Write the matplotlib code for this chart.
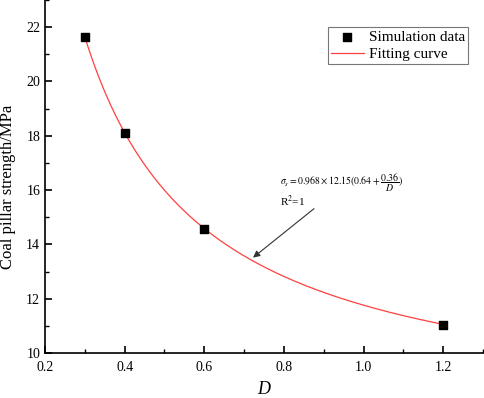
import numpy as np
import matplotlib
matplotlib.use("Agg")
import matplotlib.pyplot as plt
from matplotlib.ticker import MultipleLocator

plt.rcParams['font.family'] = ['Liberation Serif', 'DejaVu Serif']
plt.rcParams['mathtext.fontset'] = 'stix'

# Simulation data
D_sim = [0.3, 0.4, 0.6, 1.2]
strength_sim = [21.65, 18.12, 14.58, 11.05]

# Fitting parameters (from the annotation)
k1 = 0.968
k2 = 12.15
a = 0.64
b = 0.36

D_fit = np.linspace(0.3, 1.2, 300)
strength_fit = k1 * k2 * (a + b / D_fit)

fig = plt.figure(figsize=(4.84, 3.98), dpi=100)
ax = fig.add_axes([0.093, 0.113, 0.905, 0.887])

ax.plot(D_fit, strength_fit, color='#ff4040', lw=0.9, label='Fitting curve', zorder=2)
ax.scatter(D_sim, strength_sim, marker='s', s=40, color='black', label='Simulation data', zorder=3)

ax.set_xlim(0.2, 1.3)
ax.set_ylim(10, 23)
ax.xaxis.set_minor_locator(MultipleLocator(0.1))
ax.yaxis.set_minor_locator(MultipleLocator(1))
ax.set_xticks([0.2, 0.4, 0.6, 0.8, 1.0, 1.2])
ax.set_xticklabels(['0.2', '0.4', '0.6', '0.8', '1.0', '1.2'])
ax.set_yticks([10, 12, 14, 16, 18, 20, 22])

for s in ['top', 'right']:
    ax.spines[s].set_visible(False)
for s in ['left', 'bottom']:
    ax.spines[s].set_linewidth(1.2)
ax.tick_params(which='major', direction='in', length=5, width=1.2, labelsize=10)
ax.tick_params(axis='x', which='major', pad=6)
ax.tick_params(which='minor', direction='in', length=3, width=1.0)

ax.set_xlabel('D', fontsize=13, style='italic')
ax.xaxis.set_label_coords(0.5, -0.104)
ax.xaxis.label.set_va('center')
ax.set_ylabel('Coal pillar strength/MPa', fontsize=12)
ax.yaxis.label.set_va('center')
ax.yaxis.set_label_coords(-0.085, 0.47)

handles, labels = ax.get_legend_handles_labels()
leg = ax.legend(handles[::-1], labels[::-1], loc='upper right', bbox_to_anchor=(0.966, 0.924),
                borderaxespad=0, fontsize=11, frameon=True, fancybox=False, edgecolor='#555555',
                handlelength=2.2, borderpad=0.2, labelspacing=0.25, handletextpad=0.3)
leg.get_frame().set_linewidth(0.8)

ax.text(0.79, 16.28, r'$\sigma_s=0.968\times12.15(0.64+\dfrac{0.36}{D})$', fontsize=7, va='center')
ax.text(0.79, 15.6, r'R$^2$=1', fontsize=8, va='center')
ax.annotate('', xy=(0.717, 13.45), xytext=(0.881, 15.38),
            arrowprops=dict(arrowstyle='-|>', color='#333333', lw=0.8, mutation_scale=10))

fig.savefig('out.png', dpi=100)
